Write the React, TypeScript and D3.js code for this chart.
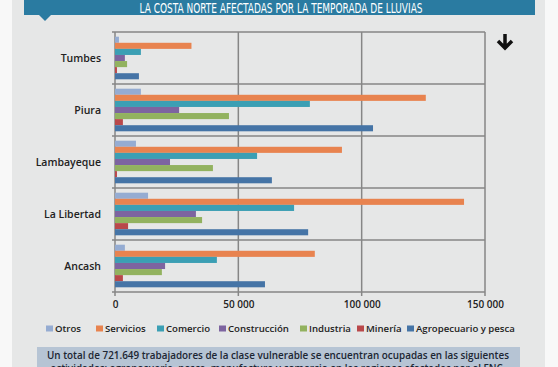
import { useEffect, useRef } from 'react';
import { select, scaleBand, scaleLinear, axisBottom } from 'd3';

const regions = ['Tumbes', 'Piura', 'Lambayeque', 'La Libertad', 'Ancash'];
const sectors = ['Otros', 'Servicios', 'Comercio', 'Construcción', 'Industria', 'Minería', 'Agropecuario y pesca'];
const colours = ['#95acd2', '#e8834f', '#3b9fb4', '#7d64a0', '#92b25f', '#b9484a', '#4574a6'];

// values per region, same order as sectors
const tumbes = [1600, 31000, 10500, 4000, 4900, 800, 9700];
const piura = [10500, 126000, 79000, 26000, 46200, 3200, 104600];
const lambayeque = [8500, 92000, 57600, 22300, 39700, 800, 63600];
const laLibertad = [13400, 141500, 72600, 32800, 35300, 5300, 78300];
const ancash = [4000, 81000, 41300, 20300, 19000, 3200, 60800];
const values = [tumbes, piura, lambayeque, laLibertad, ancash];

const xTicks = [0, 50000, 100000, 150000];
const fmt = (v) => (v === 0 ? '0' : `${Math.floor(v / 1000)} ${String(v % 1000).padStart(3, '0')}`);

const FONT = 'Open Sans, sans-serif';

const App = () => {
  const chartRef = useRef(null);

  useEffect(() => {
    const g = select(chartRef.current);
    g.selectAll('*').remove();
    const left = 115, right = 485, top = 32, bottom = 292;

    const x = scaleLinear().domain([0, 150000]).range([left, right]);
    const y0 = scaleBand().domain(regions).range([top, bottom]);
    const y1 = scaleBand().domain(sectors).range([4.7, y0.bandwidth() - 4.7]);

    // vertical gridlines
    g.selectAll('.vgrid')
      .data(xTicks)
      .join('line')
      .attr('x1', (d) => x(d))
      .attr('x2', (d) => x(d))
      .attr('y1', top)
      .attr('y2', bottom + 4)
      .attr('stroke', '#868686')
      .attr('stroke-width', 1.5);

    // horizontal category lines
    g.selectAll('.hgrid')
      .data([top, ...regions.map((r) => y0(r) + y0.bandwidth())])
      .join('line')
      .attr('x1', left - 3)
      .attr('x2', right)
      .attr('y1', (d) => d)
      .attr('y2', (d) => d)
      .attr('stroke', '#868686')
      .attr('stroke-width', 1.5);

    const groups = g
      .selectAll('.region')
      .data(regions)
      .join('g')
      .attr('transform', (d) => `translate(0, ${y0(d)})`);

    groups
      .selectAll('rect')
      .data((d, i) => values[i].map((v, j) => ({ sector: sectors[j], value: v, colour: colours[j] })))
      .join('rect')
      .attr('x', x(0))
      .attr('y', (d) => y1(d.sector))
      .attr('width', (d) => x(d.value) - x(0))
      .attr('height', y1.bandwidth())
      .attr('fill', (d) => d.colour);

    groups
      .append('text')
      .attr('x', 101)
      .attr('y', y0.bandwidth() / 2 + 4)
      .attr('text-anchor', 'end')
      .attr('font-family', FONT)
      .attr('font-size', 10.5)
      .attr('font-weight', 600)
      .attr('fill', '#222')
      .text((d) => d);

    const axis = g
      .append('g')
      .attr('transform', `translate(0, ${bottom})`)
      .call(axisBottom(x).tickValues(xTicks).tickFormat(fmt).tickSize(0).tickPadding(9));
    axis.select('.domain').remove();
    axis
      .selectAll('text')
      .attr('font-family', FONT)
      .attr('font-size', 10)
      .attr('font-weight', 600)
      .attr('fill', '#222');
  }, []);

  const legendX = [46, 96, 157, 219, 300, 357, 407];

  return (
    <svg width={558} height={367} style={{ position: 'absolute', left: 0, top: 0 }}>
      <rect width={558} height={367} fill='#f8f8f8' />
      <rect x={12} y={0} width={533} height={367} fill='#e6e7e7' />
      <rect x={24} y={0} width={511} height={15} fill='#2a7ba1' />
      <path d='M39,15 L51,15 L45,21 Z' fill='#2a7ba1' />
      <text
        x={281}
        y={12.5}
        textAnchor='middle'
        fontFamily='DejaVu Sans Condensed, sans-serif'
        fontSize={14}
        fill='#fff'
        textLength={283}
        lengthAdjust='spacingAndGlyphs'
      >
        LA COSTA NORTE AFECTADAS POR LA TEMPORADA DE LLUVIAS
      </text>
      <g ref={chartRef} />
      <path d='M505,34 L505,48 M498,41 L505,48 L512,41' fill='none' stroke='#111' strokeWidth={3.5} />
      {sectors.map((s, i) => (
        <g key={s} transform={`translate(${legendX[i]}, 332)`}>
          <rect x={0} y={-6.5} width={7} height={6} fill={colours[i]} />
          <text x={9} y={0} fontFamily={FONT} fontSize={9.6} fontWeight={600} fill='#222'>
            {s}
          </text>
        </g>
      ))}
      <rect x={37} y={347} width={483} height={20} fill='#b6c4d4' />
      <text
        x={278}
        y={358.5}
        textAnchor='middle'
        fontFamily={FONT}
        fontSize={11}
        fontWeight={600}
        fill='#1c2633'
        textLength={462}
        lengthAdjust='spacingAndGlyphs'
      >
        Un total de 721.649 trabajadores de la clase vulnerable se encuentran ocupadas en las siguientes
      </text>
      <text
        x={278}
        y={372}
        textAnchor='middle'
        fontFamily={FONT}
        fontSize={11}
        fontWeight={600}
        fill='#1c2633'
        textLength={455}
        lengthAdjust='spacingAndGlyphs'
      >
        actividades: agropecuaria, pesca, manufactura y comercio en las regiones afectadas por el FNC.
      </text>
    </svg>
  );
};

export default App;
